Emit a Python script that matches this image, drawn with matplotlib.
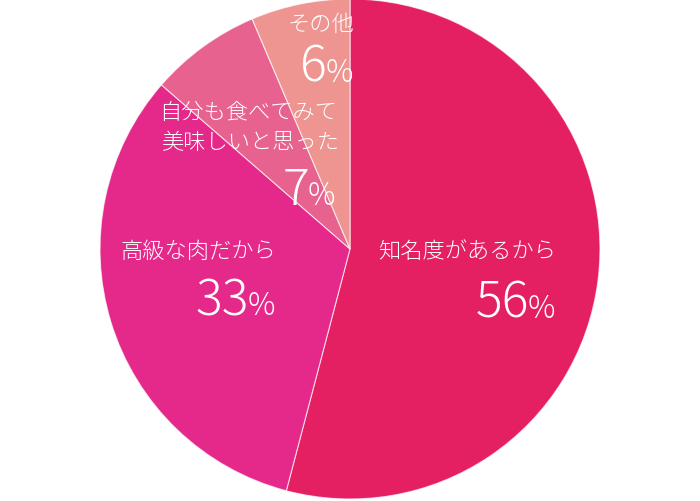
import matplotlib.pyplot as plt

labels = ["知名度があるから", "高級な肉だから", "自分も食べてみて\n美味しいと思った", "その他"]
pct_text = [56, 33, 7, 6]
shares = [54.1, 32.3, 7.2, 6.4]
colors = ["#E42062", "#E5298A", "#E8628F", "#EE9591"]

W, H = 700, 502


def px(x, y):
    # pixel coords (top-left origin) -> figure fraction
    return x / W, 1 - y / H


def main():
    plt.rcParams['font.family'] = ['Noto Sans CJK JP', 'DejaVu Sans']

    fig = plt.figure(figsize=(W / 100, H / 100), dpi=100)
    ax = fig.add_axes([100 / W, 2 / H, 500 / W, 500 / H])

    ax.pie(shares, colors=colors, startangle=90, counterclock=False,
           radius=1, wedgeprops=dict(edgecolor=(1, 1, 1, 0.7), linewidth=0.8))
    ax.set_xlim(-1, 1)
    ax.set_ylim(-1, 1)
    ax.set_aspect('equal')
    ax.axis('off')

    # category labels (one text per line so the spacing can be matched)
    label_pos = [[(556, 252)], [(276, 252)], [(337, 113), (339, 143)], [(354, 25)]]
    for lab, spots in zip(labels, label_pos):
        for line, (x, y) in zip(lab.split("\n"), spots):
            fig.text(*px(x, y), line, color="white", fontsize=16, ha="right",
                     va="center", fontweight="light")

    # big percentages, number + smaller % sign on a shared baseline
    pct_pos = [(555, 318), (275, 315), (335, 205), (353, 82)]
    for v, (x, y) in zip(pct_text, pct_pos):
        fig.text(*px(x, y), "%", color="white", fontsize=22, ha="right",
                 va="baseline", fontweight="light")
        fig.text(*px(x - 26, y), str(v), color="white", fontsize=36,
                 ha="right", va="baseline", fontweight="light")

    fig.savefig("out.png", dpi=100)


if __name__ == "__main__":
    main()
